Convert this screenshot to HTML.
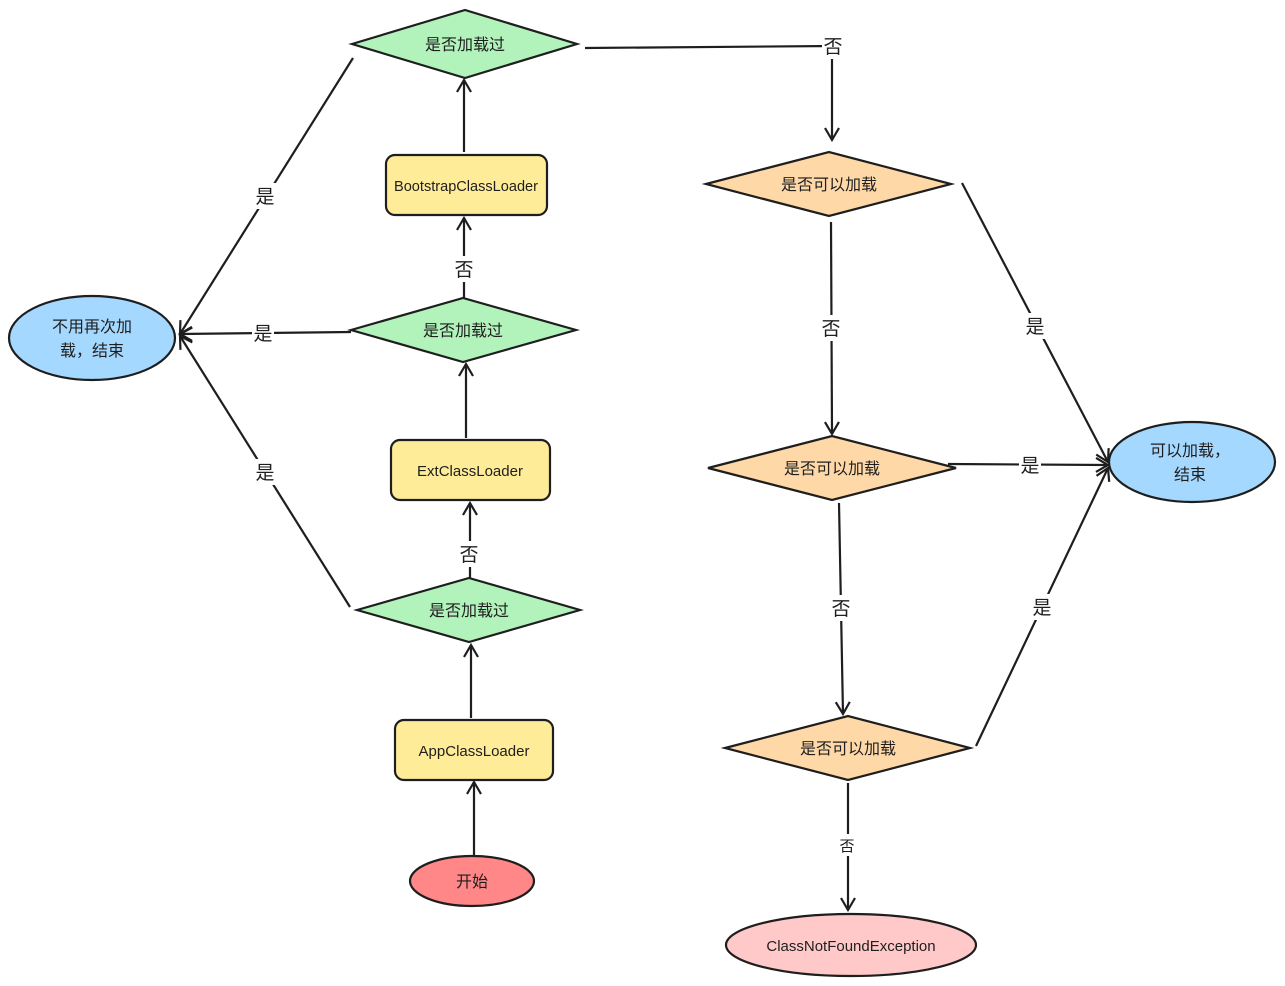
<!DOCTYPE html>
<html><head><meta charset="utf-8"><style>
html,body{margin:0;padding:0;background:#fff;}
svg{display:block;}
text{font-family:"Liberation Sans","Noto Sans CJK SC",sans-serif;fill:#1e1e1e;}
</style></head><body>
<svg width="1285" height="986" viewBox="0 0 1285 986" xmlns="http://www.w3.org/2000/svg">
<defs>
<marker id="a" markerWidth="20" markerHeight="20" refX="14" refY="8" orient="auto" markerUnits="userSpaceOnUse">
<path d="M2,1 L14,8 L2,15" fill="none" stroke="#1e1e1e" stroke-width="2.2"/>
</marker>
</defs>
<g stroke="#1e1e1e" stroke-width="2.2" fill="none">
<line x1="464" y1="152" x2="464" y2="80" marker-end="url(#a)"/>
<line x1="464" y1="298" x2="464" y2="218" marker-end="url(#a)"/>
<line x1="466" y1="438" x2="466" y2="364" marker-end="url(#a)"/>
<line x1="470" y1="578" x2="470" y2="503" marker-end="url(#a)"/>
<line x1="471" y1="718" x2="471" y2="645" marker-end="url(#a)"/>
<line x1="474" y1="857" x2="474" y2="782" marker-end="url(#a)"/>
<line x1="353" y1="58" x2="180" y2="334" marker-end="url(#a)"/>
<line x1="351" y1="332" x2="180" y2="334" marker-end="url(#a)"/>
<line x1="350" y1="607" x2="180" y2="336" marker-end="url(#a)"/>
<polyline points="585,48 832,46 832,140" marker-end="url(#a)"/>
<line x1="831" y1="222" x2="832" y2="434" marker-end="url(#a)"/>
<line x1="839" y1="503" x2="843" y2="714" marker-end="url(#a)"/>
<line x1="848" y1="783" x2="848" y2="910" marker-end="url(#a)"/>
<line x1="962" y1="183" x2="1108" y2="462" marker-end="url(#a)"/>
<line x1="948" y1="464" x2="1108" y2="465" marker-end="url(#a)"/>
<line x1="976" y1="746" x2="1108" y2="468" marker-end="url(#a)"/>
</g>
<g stroke="#1e1e1e" stroke-width="2.2">
<polygon points="352,44 465,10 577,44 465,78" fill="#b2f2bb"/>
<polygon points="351,330 463,298 576,330 463,362" fill="#b2f2bb"/>
<polygon points="357,610 469,578 580,610 469,642" fill="#b2f2bb"/>
<rect x="386" y="155" width="161" height="60" rx="9" fill="#ffec99"/>
<rect x="391" y="440" width="159" height="60" rx="9" fill="#ffec99"/>
<rect x="395" y="720" width="158" height="60" rx="9" fill="#ffec99"/>
<ellipse cx="472" cy="881" rx="62" ry="25" fill="#ff8787"/>
<ellipse cx="92" cy="338" rx="83" ry="42" fill="#a5d8ff"/>
<polygon points="706,184 829,152 951,184 829,216" fill="#ffd8a8"/>
<polygon points="708,468 832,436 956,468 832,500" fill="#ffd8a8"/>
<polygon points="725,748 848,716 970,748 848,780" fill="#ffd8a8"/>
<ellipse cx="1192" cy="462" rx="83" ry="40" fill="#a5d8ff"/>
<ellipse cx="851" cy="945" rx="125" ry="31" fill="#ffc9c9"/>
</g>
<g fill="#fff">
<rect x="254" y="183" width="22" height="26"/>
<rect x="252" y="320" width="22" height="26"/>
<rect x="254" y="459" width="22" height="26"/>
<rect x="453" y="256" width="22" height="26"/>
<rect x="458" y="541" width="22" height="26"/>
<rect x="822" y="33" width="22" height="26"/>
<rect x="820" y="315" width="22" height="26"/>
<rect x="830" y="595" width="22" height="26"/>
<rect x="837" y="834" width="20" height="22"/>
<rect x="1024" y="313" width="22" height="26"/>
<rect x="1019" y="452" width="22" height="26"/>
<rect x="1031" y="594" width="22" height="26"/>
</g>
<g font-size="19" text-anchor="middle">
<text x="265" y="203">是</text>
<text x="263" y="340">是</text>
<text x="265" y="479">是</text>
<text x="464" y="276">否</text>
<text x="469" y="561">否</text>
<text x="833" y="53">否</text>
<text x="831" y="335">否</text>
<text x="841" y="615">否</text>
<text x="847" y="851" font-size="15">否</text>
<text x="1035" y="333">是</text>
<text x="1030" y="472">是</text>
<text x="1042" y="614">是</text>
</g>
<g font-size="16" text-anchor="middle">
<text x="465" y="50">是否加载过</text>
<text x="463" y="336">是否加载过</text>
<text x="469" y="616">是否加载过</text>
<text x="466" y="191" font-size="15" textLength="144" lengthAdjust="spacingAndGlyphs">BootstrapClassLoader</text>
<text x="470" y="476" font-size="15">ExtClassLoader</text>
<text x="474" y="756" font-size="15">AppClassLoader</text>
<text x="472" y="887">开始</text>
<text x="92" y="332">不用再次加</text>
<text x="92" y="356">载，结束</text>
<text x="829" y="190">是否可以加载</text>
<text x="832" y="474">是否可以加载</text>
<text x="848" y="754">是否可以加载</text>
<text x="1190" y="456">可以加载，</text>
<text x="1190" y="480">结束</text>
<text x="851" y="951" font-size="15">ClassNotFoundException</text>
</g>
</svg>
</body></html>
